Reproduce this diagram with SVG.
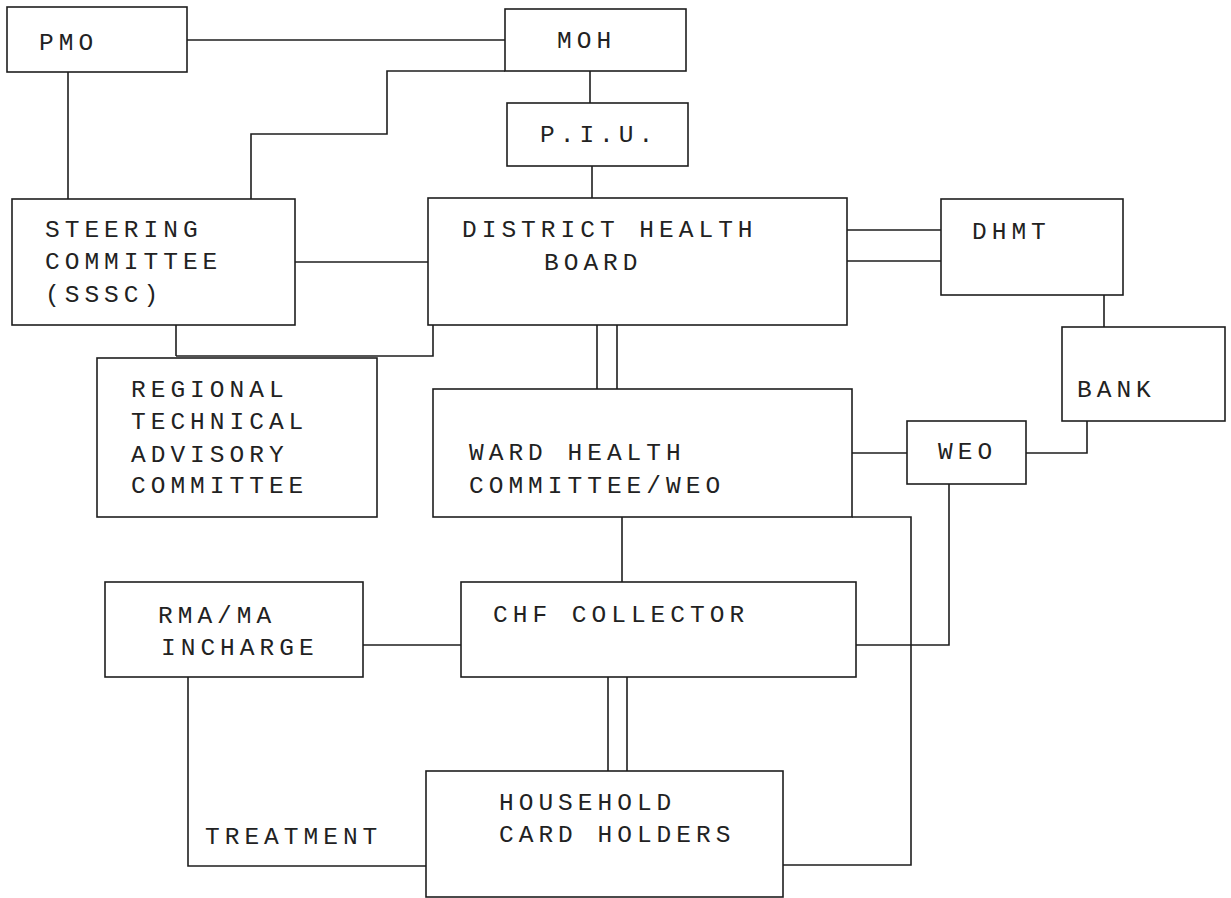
<svg xmlns="http://www.w3.org/2000/svg" width="1231" height="898" viewBox="0 0 1231 898">
<style>
.box{fill:#fff;stroke:#1e1e1e;stroke-width:1.6}
.ln{fill:none;stroke:#1e1e1e;stroke-width:1.6}
text{font-family:"Liberation Mono","DejaVu Sans Mono",monospace;font-size:24.5px;letter-spacing:5px;fill:#222}
</style>
<rect width="1231" height="898" fill="#fff"/>
<g id="connectors">
<path class="ln" d="M187,40 H505"/>
<path class="ln" d="M68,72 V199"/>
<path class="ln" d="M251,199 V134 H387 V71 H505"/>
<path class="ln" d="M590,71 V103"/>
<path class="ln" d="M592,166 V198"/>
<path class="ln" d="M295,262 H428"/>
<path class="ln" d="M847,230 H941 M847,261 H941"/>
<path class="ln" d="M1104,295 V327"/>
<path class="ln" d="M176,325 V356 M433,325 V356 H176"/>
<path class="ln" d="M597,325 V389 M617,325 V389"/>
<path class="ln" d="M852,453 H907"/>
<path class="ln" d="M1026,453 H1087 V421"/>
<path class="ln" d="M622,517 V582"/>
<path class="ln" d="M852,517 H911 V865 H783"/>
<path class="ln" d="M949,484 V645 H856"/>
<path class="ln" d="M363,645 H461"/>
<path class="ln" d="M608,677 V771 M627,677 V771"/>
<path class="ln" d="M188,677 V866 H426"/>
</g>
<g id="pmo"><rect class="box" x="7" y="7" width="180" height="65"/><text x="39" y="50">PMO</text></g>
<g id="moh"><rect class="box" x="505" y="9" width="181" height="62"/><text x="557" y="48">MOH</text></g>
<g id="piu"><rect class="box" x="507" y="103" width="181" height="63"/><text x="540" y="142">P.I.U.</text></g>
<g id="steering"><rect class="box" x="12" y="199" width="283" height="126"/><text x="45" y="237">STEERING</text><text x="45" y="269">COMMITTEE</text><text x="45" y="302">(SSSC)</text></g>
<g id="dhb"><rect class="box" x="428" y="198" width="419" height="127"/><text x="462" y="237">DISTRICT HEALTH</text><text x="544" y="270">BOARD</text></g>
<g id="dhmt"><rect class="box" x="941" y="199" width="182" height="96"/><text x="972" y="239">DHMT</text></g>
<g id="bank"><rect class="box" x="1062" y="327" width="163" height="94"/><text x="1077" y="397">BANK</text></g>
<g id="regional"><rect class="box" x="97" y="358" width="280" height="159"/><text x="131" y="397">REGIONAL</text><text x="131" y="429">TECHNICAL</text><text x="131" y="462">ADVISORY</text><text x="131" y="493">COMMITTEE</text></g>
<g id="ward"><rect class="box" x="433" y="389" width="419" height="128"/><text x="469" y="460">WARD HEALTH</text><text x="469" y="493">COMMITTEE/WEO</text></g>
<g id="weo"><rect class="box" x="907" y="421" width="119" height="63"/><text x="938" y="459">WEO</text></g>
<g id="rma"><rect class="box" x="105" y="582" width="258" height="95"/><text x="158" y="623">RMA/MA</text><text x="161" y="655">INCHARGE</text></g>
<g id="chf"><rect class="box" x="461" y="582" width="395" height="95"/><text x="493" y="622">CHF COLLECTOR</text></g>
<g id="household"><rect class="box" x="426" y="771" width="357" height="126"/><text x="499" y="810">HOUSEHOLD</text><text x="499" y="842">CARD HOLDERS</text></g>
<g id="treatment-label"><text x="205" y="844">TREATMENT</text></g>
</svg>
